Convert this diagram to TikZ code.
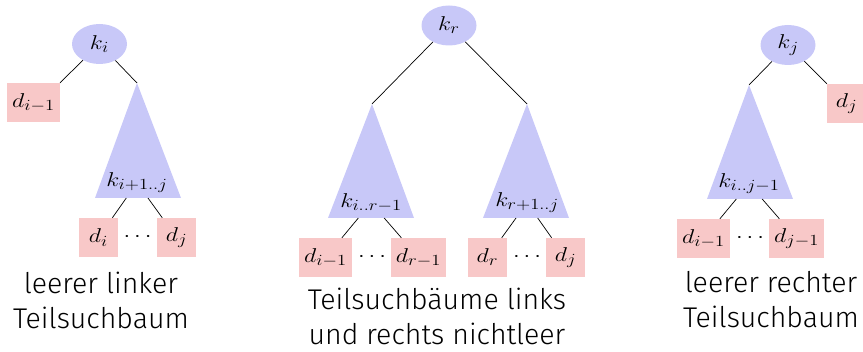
\RequirePackage{fix-cm}
\documentclass[tikz,border=0pt]{standalone}
\usepackage[no-math]{fontspec}
\usepackage{graphicx}
\setmainfont{Fira Sans}[UprightFont={* Light}]
\usetikzlibrary{shapes.geometric}
\definecolor{kblue}{RGB}{200,200,248}
\definecolor{dpink}{RGB}{248,200,200}
\DeclareMathSizes{20}{20}{15.5}{11}
\newcommand{\mathsz}{\fontsize{20}{24}\selectfont}
\newcommand{\mtxt}[1]{\scalebox{1.2}[1]{$#1$}}
\begin{document}
\begin{tikzpicture}[x=1pt,y=-1pt,
  keynode/.style={ellipse, fill=kblue, minimum width=55pt, minimum height=40pt, inner sep=0pt, font=\mathsz},
  leaf/.style={rectangle, fill=dpink, minimum width=39pt, minimum height=39pt, inner sep=5pt, font=\mathsz},
  subtree/.style={minimum height=30pt, inner sep=0pt, anchor=south, font=\mathsz},
  dotsnode/.style={inner sep=0pt, font=\mathsz},
  tri/.style={fill=kblue},
  edge/.style={draw=black, line width=0.7pt},
  caption/.style={align=center, inner sep=0pt, font=\fontsize{28.5}{35}\selectfont}]
\useasboundingbox (0,0) rectangle (863,352);
% ---------- left tree
\coordinate (a1) at (137,83);
\fill[tri] (a1) -- (95,198) -- (181,198) -- cycle;
\node[keynode] (ki) at (99.5,44) {\mtxt{k_i}};
\node[leaf] (dim1) at (33.5,102.5) {\mtxt{d_{i-1}}};
\node[subtree] (t1) at (137,198) {\mtxt{k_{i+1..j}}};
\node[leaf] (di) at (98.5,237.5) {\mtxt{d_i}};
\node[leaf] (dj) at (176.5,237.5) {\mtxt{d_j}};
\node[dotsnode] (dots1) at (137.5,237.5) {\mtxt{\cdots}};
\draw[edge] (ki) -- (dim1.north east);
\draw[edge] (ki) -- (a1);
\draw[edge] (t1) -- (di);
\draw[edge] (t1) -- (dj);
\node[caption] (c1) at (101,300) {leerer linker\\Teilsuchbaum};
% ---------- middle tree
\coordinate (a2) at (372,104);
\coordinate (a3) at (527,104);
\fill[tri] (a2) -- (328,218) -- (414,218) -- cycle;
\fill[tri] (a3) -- (483,218) -- (569,218) -- cycle;
\node[keynode] (kr) at (449,25.5) {\mtxt{k_r}};
\node[subtree] (t2) at (371,218) {\mtxt{k_{i..r-1}}};
\node[subtree] (t3) at (527,218) {\mtxt{k_{r+1..j}}};
\node[leaf] (m1) at (325.5,257.5) {\mtxt{d_{i-1}}};
\node[leaf] (m2) at (418.5,257.5) {\mtxt{d_{r-1}}};
\node[leaf] (m3) at (487.5,257.5) {\mtxt{d_r}};
\node[leaf] (m4) at (565.5,257.5) {\mtxt{d_j}};
\node[dotsnode] (dots2) at (372,257.5) {\mtxt{\cdots}};
\node[dotsnode] (dots3) at (527,257.5) {\mtxt{\cdots}};
\draw[edge] (kr) -- (a2);
\draw[edge] (kr) -- (a3);
\draw[edge] (t2) -- (m1);
\draw[edge] (t2) -- (m2);
\draw[edge] (t3) -- (m3);
\draw[edge] (t3) -- (m4);
\node[caption] (c2) at (437,316) {Teilsuchbäume links\\und rechts nichtleer};
% ---------- right tree
\coordinate (a4) at (749,85);
\fill[tri] (a4) -- (707,199) -- (793,199) -- cycle;
\node[keynode] (kj) at (788,45) {\mtxt{k_j}};
\node[leaf] (dj2) at (846.5,103.5) {\mtxt{d_j}};
\node[subtree] (t4) at (749,199) {\mtxt{k_{i..j-1}}};
\node[leaf] (r1) at (703.5,238.5) {\mtxt{d_{i-1}}};
\node[leaf] (r2) at (796.5,238.5) {\mtxt{d_{j-1}}};
\node[dotsnode] (dots4) at (750,238.5) {\mtxt{\cdots}};
\draw[edge] (kj) -- (a4);
\draw[edge] (kj) -- (dj2.north west);
\draw[edge] (t4) -- (r1);
\draw[edge] (t4) -- (r2);
\node[caption] (c3) at (771,300) {leerer rechter\\Teilsuchbaum};
\end{tikzpicture}
\end{document}
